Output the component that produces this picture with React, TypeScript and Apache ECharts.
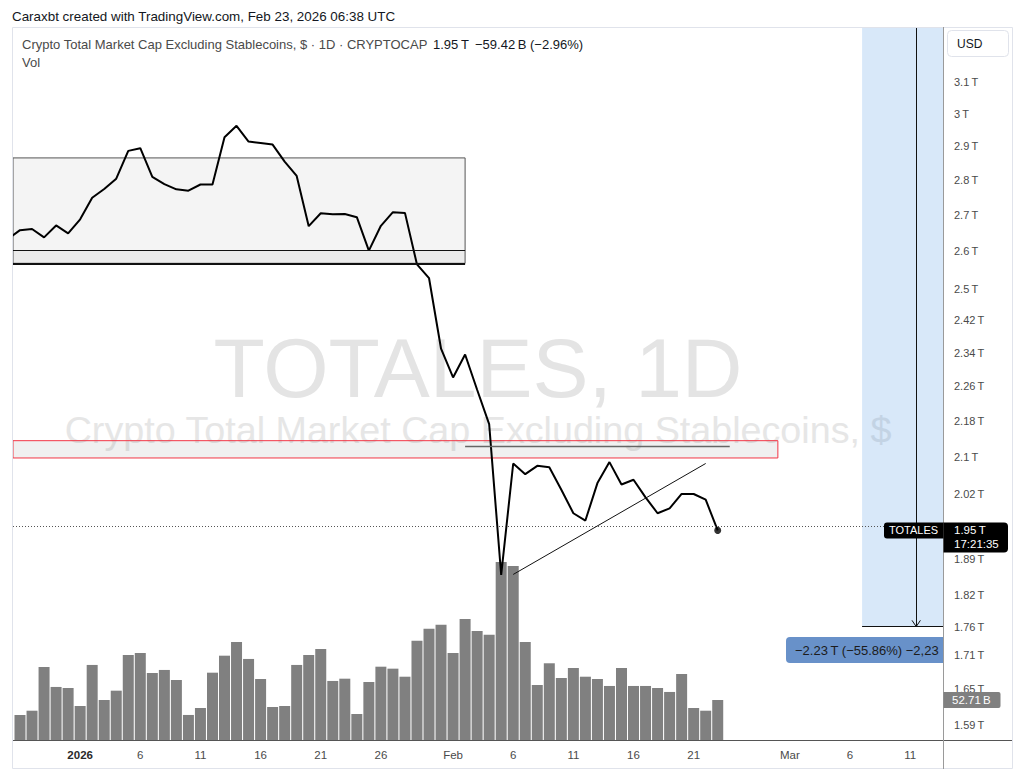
import React, { useEffect, useRef } from "react";
import * as echarts from "echarts";

// ---------- data ----------
const dates = [
  "2025-12-26", "2025-12-27", "2025-12-28", "2025-12-29", "2025-12-30", "2025-12-31",
  "2026-01-01", "2026-01-02", "2026-01-03", "2026-01-04", "2026-01-05", "2026-01-06", "2026-01-07", "2026-01-08",
  "2026-01-09", "2026-01-10", "2026-01-11", "2026-01-12", "2026-01-13", "2026-01-14", "2026-01-15", "2026-01-16",
  "2026-01-17", "2026-01-18", "2026-01-19", "2026-01-20", "2026-01-21", "2026-01-22", "2026-01-23", "2026-01-24",
  "2026-01-25", "2026-01-26", "2026-01-27", "2026-01-28", "2026-01-29", "2026-01-30", "2026-01-31",
  "2026-02-01", "2026-02-02", "2026-02-03", "2026-02-04", "2026-02-05", "2026-02-06", "2026-02-07", "2026-02-08",
  "2026-02-09", "2026-02-10", "2026-02-11", "2026-02-12", "2026-02-13", "2026-02-14", "2026-02-15", "2026-02-16",
  "2026-02-17", "2026-02-18", "2026-02-19", "2026-02-20", "2026-02-21", "2026-02-22", "2026-02-23",
];

// daily close, trillions USD
const closeT = [
  2.634, 2.658, 2.661, 2.638, 2.671, 2.649,
  2.688, 2.749, 2.774, 2.804, 2.886, 2.894, 2.809, 2.788,
  2.773, 2.769, 2.787, 2.787, 2.927, 2.962, 2.914, 2.910,
  2.905, 2.854, 2.812, 2.669, 2.705, 2.702, 2.703, 2.694,
  2.602, 2.670, 2.708, 2.706, 2.565, 2.529, 2.350,
  2.281, 2.336, 2.252, 2.173, 1.858, 2.086, 2.063, 2.081,
  2.078, 2.030, 1.981, 1.966, 2.044, 2.089, 2.041, 2.051,
  2.014, 1.981, 1.991, 2.021, 2.021, 2.009, 1.946,
];

// daily volume, billions USD
const volumeB: (number | null)[] = [
  null, 33.0, 38.6, 96.2, 69.9, 68.5,
  44.8, 98.9, 52.7, 65.0, 112.0, 114.7, 88.3, 92.3,
  79.1, 33.0, 42.2, 88.7, 111.1, 129.2, 106.8, 80.4,
  43.5, 44.8, 98.9, 112.0, 119.9, 77.8, 80.8, 34.3,
  76.4, 96.6, 94.0, 83.4, 130.9, 146.7, 152.0,
  114.7, 159.5, 143.7, 138.8, 234.6, 229.3, 129.2, 72.5,
  101.1, 81.7, 94.9, 83.4, 80.4, 71.2, 94.9, 71.2,
  71.2, 68.5, 63.3, 87.0, 42.2, 38.6, 52.71,
];

const priceTicks = [3.1, 3, 2.9, 2.8, 2.7, 2.6, 2.5, 2.42, 2.34, 2.26, 2.18, 2.1, 2.02, 1.89, 1.82, 1.76, 1.71, 1.65, 1.59];
const timeTickDays = [0, 5, 10, 15, 20, 25, 31, 36, 41, 46, 51, 59, 64, 69];
const timeTickLabels = ["2026", "6", "11", "16", "21", "26", "Feb", "6", "11", "16", "21", "Mar", "6", "11"];

// drawings (day index from 2026-01-01, price in T)
const rangeBox = { endDay: 32, top: 2.865, bottom: 2.568, inner: 2.603 };
const redZone = { endDay: 58, top: 2.136, bottom: 2.098 };
const redZoneLine = { startDay: 32, endDay: 54, price: 2.123 };
const trendLine = { startDay: 36, startPrice: 1.859, endDay: 52, endPrice: 2.086 };
const measure = { startDay: 65, endDay: 74, midDay: 69.5, endPrice: 1.761 };

const lastClockText = "17:21:35";
const measureText = "\u22122.23\u2009T (\u221255.86%) \u22122,23";

// ---------- helpers ----------
const FONT = "'Liberation Sans', Arial, Helvetica, sans-serif";
const dayIndex = (s: string) => {
  const [y, m, d] = s.split("-").map(Number);
  return Math.round((Date.UTC(y, m - 1, d) - Date.UTC(2026, 0, 1)) / 86400000);
};
const fmtT = (v: number) => `${Number(v.toFixed(2))}\u2009T`;

const X_MIN = -5.582;
const X_MAX = 71.727;
const Y_MIN = 0.44812;
const Y_MAX = 1.18851;
const VOL_MAX = 939.5;
const EPS = 1e-7;

export default function App() {
  const ref = useRef<HTMLDivElement>(null);

  useEffect(() => {
    const el = ref.current!;
    const chart = echarts.init(el, null, { renderer: "svg" });
    const days = dates.map(dayIndex);
    const L = Math.log;
    const lastIdx = closeT.length - 1;
    const lastDay = days[lastIdx];
    const lastPrice = closeT[lastIdx];
    const lastVol = volumeB[lastIdx] as number;
    const xl = X_MIN + EPS;
    const xr = X_MAX - EPS;
    const yt = Y_MAX - EPS;

    const option: any = {
      animation: false,
      backgroundColor: "#ffffff",
      grid: { left: 13, right: 87, top: 27, bottom: 32, containLabel: false },
      xAxis: {
        type: "value",
        min: X_MIN,
        max: X_MAX,
        axisLine: { show: false },
        axisTick: { show: false },
        splitLine: { show: false },
        axisLabel: {
          customValues: timeTickDays,
          margin: 9,
          fontSize: 11.5,
          fontFamily: FONT,
          color: "#4a4a4a",
          formatter: (v: number) => {
            const i = timeTickDays.indexOf(Math.round(v));
            const t = i >= 0 ? timeTickLabels[i] : "";
            return i === 0 ? `{b|${t}}` : t;
          },
          rich: { b: { fontWeight: "bold", fontSize: 11.5, fontFamily: FONT, color: "#2a2a2a" } },
        },
      },
      yAxis: [
        {
          type: "value",
          position: "right",
          min: Y_MIN,
          max: Y_MAX,
          axisLine: { show: false },
          axisTick: { show: false },
          splitLine: { show: false },
          axisLabel: {
            customValues: priceTicks.map((v) => L(v)),
            formatter: (v: number) => fmtT(Math.exp(v)),
            align: "left",
            margin: 11,
            fontSize: 11,
            fontFamily: FONT,
            color: "#4a4a4a",
          },
        },
        { type: "value", min: 0, max: VOL_MAX, show: false },
      ],
      series: [
        {
          name: "areas",
          type: "line",
          z: 1,
          silent: true,
          symbol: "none",
          data: [[xl, Y_MIN + EPS]],
          lineStyle: { opacity: 0 },
          markArea: {
            silent: true,
            label: { show: false },
            data: [
              [
                { coord: [xl, L(rangeBox.top)], itemStyle: { color: "rgba(0,0,0,0.045)", borderColor: "#555", borderWidth: 1 } },
                { coord: [rangeBox.endDay, L(rangeBox.bottom)] },
              ],
              [
                { coord: [xl, L(rangeBox.inner)], itemStyle: { color: "rgba(0,0,0,0.035)", borderWidth: 0 } },
                { coord: [rangeBox.endDay, L(rangeBox.bottom)] },
              ],
              [
                { coord: [xl, L(redZone.top)], itemStyle: { color: "rgba(110,110,110,0.1)", borderColor: "#f23645", borderWidth: 1 } },
                { coord: [redZone.endDay, L(redZone.bottom)] },
              ],
              [
                { coord: [measure.startDay, yt], itemStyle: { color: "rgba(41,128,220,0.18)", borderWidth: 0 } },
                { coord: [xr, L(measure.endPrice)] },
              ],
            ],
          },
        },
        {
          name: "drawings",
          type: "line",
          z: 1.5,
          silent: true,
          symbol: "none",
          data: [[xl, Y_MIN + EPS]],
          lineStyle: { opacity: 0 },
          markLine: {
            silent: true,
            symbol: ["none", "none"],
            label: { show: false },
            data: [
              [
                { coord: [xl, L(rangeBox.bottom)], lineStyle: { color: "#111", width: 2, type: "solid" } },
                { coord: [rangeBox.endDay, L(rangeBox.bottom)] },
              ],
              [
                { coord: [xl, L(rangeBox.inner)], lineStyle: { color: "#111", width: 1, type: "solid" } },
                { coord: [rangeBox.endDay, L(rangeBox.inner)] },
              ],
              [
                { coord: [redZoneLine.startDay, L(redZoneLine.price)], lineStyle: { color: "#666", width: 1.3, type: "solid" } },
                { coord: [redZoneLine.endDay, L(redZoneLine.price)] },
              ],
              [
                { coord: [trendLine.startDay, L(trendLine.startPrice)], lineStyle: { color: "#111", width: 1, type: "solid" } },
                { coord: [trendLine.endDay, L(trendLine.endPrice)] },
              ],
              [
                { coord: [measure.startDay, L(measure.endPrice)], lineStyle: { color: "#111", width: 1, type: "solid" } },
                { coord: [xr, L(measure.endPrice)] },
              ],
              [
                { coord: [measure.midDay, yt], lineStyle: { color: "#111", width: 1, type: "solid" } },
                { coord: [measure.midDay, L(measure.endPrice)] },
              ],
              [
                { coord: [measure.midDay - 0.35, L(measure.endPrice) + 0.0065], lineStyle: { color: "#111", width: 1, type: "solid" } },
                { coord: [measure.midDay, L(measure.endPrice)] },
              ],
              [
                { coord: [measure.midDay + 0.35, L(measure.endPrice) + 0.0065], lineStyle: { color: "#111", width: 1, type: "solid" } },
                { coord: [measure.midDay, L(measure.endPrice)] },
              ],
            ],
          },
        },
        {
          name: "Vol",
          type: "bar",
          xAxisIndex: 0,
          yAxisIndex: 1,
          z: 2,
          silent: true,
          barWidth: 11,
          itemStyle: { color: "#808080" },
          data: days.map((d, i) => [d, volumeB[i]]),
        },
        {
          name: "TOTALES",
          type: "line",
          xAxisIndex: 0,
          yAxisIndex: 0,
          z: 3,
          silent: true,
          symbol: "none",
          lineStyle: { color: "#000", width: 2 },
          data: days.map((d, i) => [d, L(closeT[i])]),
          markLine: {
            silent: true,
            symbol: ["none", "none"],
            label: { show: false },
            lineStyle: { color: "#555", width: 1, type: [1, 2] },
            data: [{ yAxis: L(lastPrice) }],
          },
        },
        {
          name: "last",
          type: "scatter",
          z: 4,
          silent: true,
          symbolSize: 7,
          itemStyle: { color: "#000" },
          data: [[lastDay, L(lastPrice)]],
        },
      ],
    };

    chart.setOption(option);

    const py = (v: number) => chart.convertToPixel({ yAxisIndex: 0 }, Math.log(v)) as number;
    const pv = (v: number) => chart.convertToPixel({ yAxisIndex: 1 }, v) as number;
    const yLast = py(lastPrice);
    const yVol = pv(lastVol);
    const yMeasure = py(measure.endPrice);
    const TOP = 50;

    const txt = (text: string, x: number, y: number, size: number, fill: string, extra: any = {}) => ({
      type: "text",
      x,
      y,
      z: TOP + 2,
      silent: true,
      style: {
        text,
        fill,
        fontSize: size,
        fontFamily: FONT,
        align: extra.align || "left",
        textAlign: extra.align || "left",
        verticalAlign: "middle",
        textVerticalAlign: "middle",
        fontWeight: extra.fontWeight || "normal",
      },
    });

    const graphic: any[] = [
      // watermark
      {
        type: "text", x: 478, y: 368, z: 0, silent: true,
        style: { text: "TOTALES, 1D", fill: "#e4e4e4", fontSize: 84, fontFamily: FONT, align: "center", textAlign: "center", verticalAlign: "middle", textVerticalAlign: "middle" },
      },
      {
        type: "text", x: 478, y: 430, z: 0, silent: true,
        style: { text: "Crypto Total Market Cap Excluding Stablecoins, $", fill: "#e6e6e6", fontSize: 37.7, fontFamily: FONT, align: "center", textAlign: "center", verticalAlign: "middle", textVerticalAlign: "middle" },
      },
      // header
      txt("Caraxbt created with TradingView.com, Feb 23, 2026 06:38 UTC", 12, 16, 13.4, "#131722"),
      txt("Crypto Total Market Cap Excluding Stablecoins, $ \u00b7 1D \u00b7 CRYPTOCAP", 22, 44, 13, "#4a4a4a"),
      txt(fmtT(lastPrice), 433, 44, 13, "#131722"),
      txt("\u221259.42\u2009B (\u22122.96%)", 475, 44, 13, "#131722"),
      txt("Vol", 22, 62, 13, "#4a4a4a"),
      // frame
      { type: "rect", z: TOP, silent: true, shape: { x: 12.5, y: 27.5, width: 1000, height: 741 }, style: { fill: "none", stroke: "#e0e3eb", lineWidth: 1 } },
      // measure label
      { type: "rect", z: TOP, silent: true, shape: { x: 786, y: yMeasure + 10.5, width: 157.5, height: 26, r: [4, 0, 0, 4] }, style: { fill: "#6891c9" } },
      txt(measureText, 795, yMeasure + 23.5, 13, "#1c1c1c"),
      { type: "rect", z: TOP + 3, silent: true, shape: { x: 944, y: yMeasure + 9, width: 9, height: 29 }, style: { fill: "#ffffff" } },
      // axis lines
      { type: "line", z: TOP + 4, silent: true, shape: { x1: 13, y1: 740.5, x2: 1012, y2: 740.5 }, style: { stroke: "#555", lineWidth: 1 } },
      { type: "line", z: TOP + 4, silent: true, shape: { x1: 943.5, y1: 27, x2: 943.5, y2: 769 }, style: { stroke: "#9a9a9a", lineWidth: 1 } },
      // USD box
      { type: "rect", z: TOP, silent: true, shape: { x: 947.5, y: 30.5, width: 61, height: 26, r: 4 }, style: { fill: "#fff", stroke: "#e0e3eb", lineWidth: 1 } },
      txt("USD", 957, 44, 12, "#131722"),
      // last price labels
      { type: "rect", z: TOP + 5, silent: true, shape: { x: 884, y: yLast - 8, width: 59.5, height: 16, r: [3, 0, 0, 3] }, style: { fill: "#000" } },
      { ...txt("TOTALES", 913.5, yLast, 11, "#fff", { align: "center" }), z: TOP + 6 },
      { type: "rect", z: TOP + 5, silent: true, shape: { x: 943.5, y: yLast - 8, width: 64.5, height: 30, r: [0, 4, 4, 0] }, style: { fill: "#000" } },
      { ...txt(fmtT(lastPrice), 954, yLast, 11.5, "#fff"), z: TOP + 6 },
      { ...txt(lastClockText, 954, yLast + 14, 11.5, "#fff"), z: TOP + 6 },
      // volume label
      { type: "rect", z: TOP + 5, silent: true, shape: { x: 943.5, y: yVol - 8, width: 57, height: 16, r: [0, 2, 2, 0] }, style: { fill: "#808080" } },
      { ...txt(`${lastVol.toFixed(2)}\u2009B`, 952, yVol, 11.5, "#fff"), z: TOP + 6 },
    ];

    chart.setOption({ graphic });

    return () => chart.dispose();
  }, []);

  return (
    <div
      ref={ref}
      style={{ position: "fixed", left: 0, top: 0, width: 1030, height: 772, background: "#fff" }}
    />
  );
}
